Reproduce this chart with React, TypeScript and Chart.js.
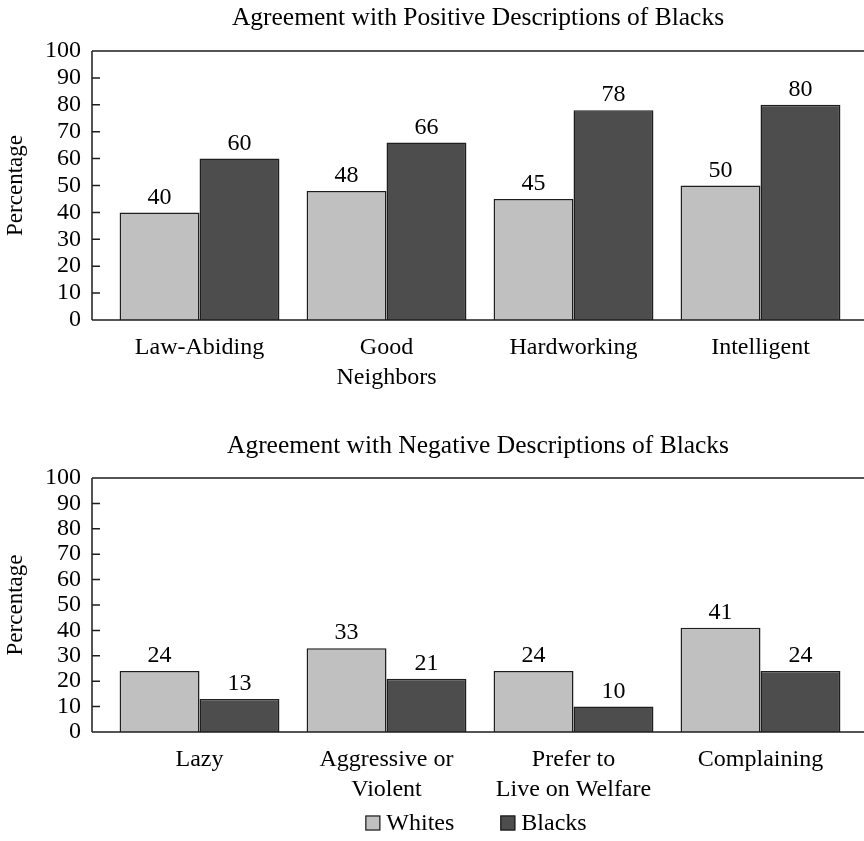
import React, { useEffect, useRef } from "react";
import { Chart, registerables } from "chart.js";

Chart.register(...registerables);

const topTitle = "Agreement with Positive Descriptions of Blacks";
const bottomTitle = "Agreement with Negative Descriptions of Blacks";
const topCategories: string[][] = [["Law-Abiding"], ["Good", "Neighbors"], ["Hardworking"], ["Intelligent"]];
const topWhites = [40, 48, 45, 50];
const topBlacks = [60, 66, 78, 80];
const bottomCategories: string[][] = [["Lazy"], ["Aggressive or", "Violent"], ["Prefer to", "Live on Welfare"], ["Complaining"]];
const bottomWhites = [24, 33, 24, 41];
const bottomBlacks = [13, 21, 10, 24];
const seriesNames = ["Whites", "Blacks"];
const yTickValues = [0, 10, 20, 30, 40, 50, 60, 70, 80, 90, 100];

const FONT = "'Liberation Serif', 'Times New Roman', serif";
const WHITE_COLOR = "#c0c0c0";
const BLACK_COLOR = "#4d4d4d";
const EDGE = "#1e1e1e";

function makeConfig(opts: {
  title: string;
  titleY: number;
  categories: string[][];
  whites: number[];
  blacks: number[];
  padTop: number;
  xHeight: number;
  legend: boolean;
  legendY: number;
}) {
  const framePlugin = {
    id: "frame",
    afterDatasetsDraw(chart: any) {
      const { ctx, chartArea } = chart;
      const y = chart.scales.y;
      ctx.save();
      ctx.strokeStyle = EDGE;
      ctx.lineWidth = 1.5;
      ctx.beginPath();
      ctx.moveTo(chartArea.left, chartArea.top);
      ctx.lineTo(chart.width, chartArea.top);
      ctx.moveTo(chartArea.left, chartArea.bottom);
      ctx.lineTo(chart.width, chartArea.bottom);
      ctx.moveTo(chartArea.left, chartArea.top);
      ctx.lineTo(chartArea.left, chartArea.bottom);
      yTickValues.forEach((v) => {
        const py = y.getPixelForValue(v);
        ctx.moveTo(chartArea.left, py);
        ctx.lineTo(chartArea.left + 8, py);
      });
      ctx.stroke();
      // value labels
      ctx.fillStyle = "#000";
      ctx.font = `24px ${FONT}`;
      ctx.textAlign = "center";
      ctx.textBaseline = "bottom";
      chart.data.datasets.forEach((ds: any, di: number) => {
        const meta = chart.getDatasetMeta(di);
        meta.data.forEach((el: any, i: number) => {
          ctx.fillText(String(ds.data[i].y), el.x, el.y - 3);
        });
      });
      // title
      ctx.font = `25.5px ${FONT}`;
      ctx.textBaseline = "middle";
      ctx.fillText(opts.title, (chartArea.left + chart.width) / 2, opts.titleY);
      // legend
      if (opts.legend) {
        ctx.font = `24px ${FONT}`;
        ctx.textAlign = "left";
        const cx = (chartArea.left + chart.width) / 2 - 2;
        const box = 15;
        const gap = 6;
        const spacing = 46;
        const widths = seriesNames.map((n) => box + gap + ctx.measureText(n).width);
        const total = widths[0] + spacing + widths[1];
        let x = cx - total / 2;
        const colors = [WHITE_COLOR, BLACK_COLOR];
        seriesNames.forEach((n, i) => {
          ctx.fillStyle = colors[i];
          ctx.fillRect(x, opts.legendY - box / 2, box, box);
          ctx.strokeStyle = EDGE;
          ctx.lineWidth = 1.2;
          ctx.strokeRect(x + 0.5, opts.legendY - box / 2 + 0.5, box - 1, box - 1);
          ctx.fillStyle = "#000";
          ctx.fillText(n, x + box + gap, opts.legendY + 1);
          x += widths[i] + spacing;
        });
      }
      ctx.restore();
    },
  };

  const xMin = -0.575;
  const xMax = 3.5535;

  return {
    type: "bar" as const,
    data: {
      datasets: [
        {
          label: seriesNames[0],
          data: opts.whites.map((v, i) => ({ x: i, y: v })),
          backgroundColor: WHITE_COLOR,
          borderColor: EDGE,
          borderWidth: 1.5,
        },
        {
          label: seriesNames[1],
          data: opts.blacks.map((v, i) => ({ x: i, y: v })),
          backgroundColor: BLACK_COLOR,
          borderColor: EDGE,
          borderWidth: 1.5,
        },
      ],
    },
    options: {
      animation: false,
      responsive: false,
      devicePixelRatio: 1,
      categoryPercentage: 0.855,
      barPercentage: 1,
      layout: { padding: { top: opts.padTop, right: 0, left: 0, bottom: 0 } },
      plugins: { legend: { display: false }, tooltip: { enabled: false }, title: { display: false } },
      scales: {
        x: {
          type: "linear",
          min: xMin,
          max: xMax,
          offset: false,
          grid: { display: false, drawTicks: false },
          border: { display: false },
          afterFit: (s: any) => {
            s.height = opts.xHeight;
          },
          ticks: {
            stepSize: 1,
            includeBounds: false,
            autoSkip: false,
            maxRotation: 0,
            padding: 13,
            color: "#000",
            font: { family: FONT, size: 24, lineHeight: 1.25 },
            callback: (v: any) => {
              const n = Number(v);
              if (Number.isInteger(n) && n >= 0 && n < opts.categories.length) return opts.categories[n];
              return "";
            },
          },
        },
        y: {
          min: 0,
          max: 100,
          grid: { display: false, drawTicks: false },
          border: { display: false },
          afterFit: (s: any) => {
            s.width = 92;
          },
          title: {
            display: true,
            text: "Percentage",
            color: "#000",
            font: { family: FONT, size: 23 },
            padding: { top: 2, bottom: 0 },
          },
          ticks: {
            stepSize: 10,
            autoSkip: false,
            padding: 11,
            color: "#000",
            font: { family: FONT, size: 24 },
          },
        },
      },
    },
    plugins: [framePlugin],
  };
}

function BarPanel(props: any) {
  const ref = useRef<HTMLCanvasElement>(null);
  useEffect(() => {
    if (!ref.current) return;
    const chart = new Chart(ref.current, makeConfig(props) as any);
    return () => chart.destroy();
  }, []);
  return (
    <canvas
      ref={ref}
      width={864}
      height={props.height}
      style={{ position: "absolute", left: 0, top: props.top, width: 864, height: props.height }}
    />
  );
}

export default function App() {
  return (
    <div style={{ position: "absolute", left: 0, top: 0, width: 864, height: 841, background: "#fff" }}>
      <BarPanel
        top={0}
        height={400}
        title={topTitle}
        titleY={18}
        categories={topCategories}
        whites={topWhites}
        blacks={topBlacks}
        padTop={51}
        xHeight={80}
        legend={false}
        legendY={0}
      />
      <BarPanel
        top={400}
        height={441}
        title={bottomTitle}
        titleY={46}
        categories={bottomCategories}
        whites={bottomWhites}
        blacks={bottomBlacks}
        padTop={78}
        xHeight={109}
        legend={true}
        legendY={423}
      />
    </div>
  );
}
